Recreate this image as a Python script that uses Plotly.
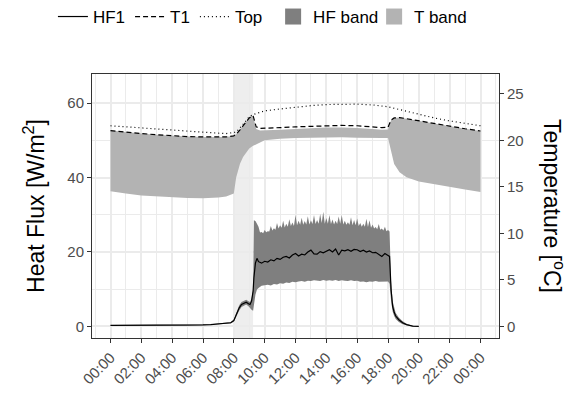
import pandas as pd
import plotly.graph_objects as go

DAY = "2020-01-01"

# ---------------- temperature series (degC) ----------------
t_temp_h = [0, 1, 2, 3, 4, 5, 6, 7, 7.5, 8, 8.15, 8.4, 8.6, 8.8, 9.0, 9.25, 9.45, 9.7,
            10, 11, 12, 13, 14, 15, 16, 17, 17.6, 18.0, 18.2, 18.4, 18.75, 19.2,
            20, 21, 22, 23, 24]
T1_C = [21.04, 20.84, 20.72, 20.60, 20.48, 20.40, 20.36, 20.36, 20.36, 20.48, 20.64,
        21.12, 21.56, 22.00, 22.40, 22.64, 21.44, 21.28, 21.28, 21.36, 21.44, 21.52,
        21.60, 21.60, 21.56, 21.44, 21.36, 21.40, 22.16, 22.40, 22.44, 22.32, 22.08,
        21.80, 21.52, 21.24, 21.00]
Top_C = [21.56, 21.44, 21.32, 21.20, 21.04, 20.92, 20.84, 20.76, 20.72, 20.80, 20.88,
         21.32, 21.76, 22.20, 22.52, 22.76, 22.88, 23.04, 23.16, 23.36, 23.56, 23.72,
         23.84, 23.88, 23.88, 23.80, 23.72, 23.60, 23.52, 23.44, 23.28, 23.08, 22.76,
         22.40, 22.08, 21.80, 21.56]
Tband_low_C = [14.52, 14.28, 14.08, 13.96, 13.88, 13.80, 13.76, 13.84, 13.96, 14.28, 16.00,
               17.48, 18.20, 18.72, 19.12, 19.40, 19.60, 19.76, 20.00, 20.16, 20.24, 20.28,
               20.32, 20.32, 20.28, 20.28, 20.24, 20.24, 18.88, 17.44, 16.56, 16.04, 15.56,
               15.28, 15.00, 14.72, 14.44]
Tband_high_C = [21.04, 20.84, 20.72, 20.60, 20.48, 20.40, 20.36, 20.36, 20.36, 20.48, 20.64,
                21.12, 21.56, 22.00, 22.40, 22.64, 21.20, 21.04, 21.04, 21.12, 21.20, 21.28,
                21.36, 21.36, 21.32, 21.20, 21.12, 21.16, 22.16, 22.40, 22.44, 22.32, 22.08,
                21.80, 21.52, 21.24, 21.00]

# ---------------- heat flux series (W/m2) ----------------
t_hf_h = [0, 1, 2, 3, 4, 5, 6, 6.5, 7, 7.5, 7.8, 8.0, 8.1, 8.2, 8.35, 8.5, 8.65, 8.8,
          8.95, 9.05, 9.15, 9.25, 9.3, 9.4, 9.5,
          9.6, 9.8, 10.0, 10.2, 10.4, 10.6, 10.8, 11.0, 11.2, 11.4, 11.6, 11.8,
          12.0, 12.2, 12.4, 12.6, 12.8, 13.0, 13.2, 13.4, 13.6, 13.8,
          14.0, 14.2, 14.4, 14.6, 14.8, 15.0, 15.2, 15.4, 15.6, 15.8,
          16.0, 16.2, 16.4, 16.6, 16.8, 17.0, 17.2, 17.4, 17.6, 17.8, 18.0,
          18.1, 18.2, 18.3, 18.4, 18.5, 18.7, 18.95, 19.2, 19.6, 20.0]
HF1 = [0.3, 0.3, 0.3, 0.3, 0.2, 0.3, 0.4, 0.5, 0.7, 0.9, 1.0, 1.6, 2.6, 3.6, 5.0, 5.9,
       6.2, 6.5, 6.1, 5.9, 6.8, 9.5, 13.0, 17.0, 18.3,
       17.4, 17.0, 17.5, 17.3, 17.9, 17.6, 18.3, 18.0, 18.6, 18.8, 18.4, 19.2,
       19.6, 18.9, 19.4, 19.2, 20.0, 20.5, 19.5, 19.4, 20.1, 19.8,
       20.3, 20.6, 20.0, 20.8, 19.2, 20.5, 20.3, 20.6, 20.2, 20.7,
       20.6, 20.1, 20.5, 20.0, 20.3, 19.8, 19.9, 19.4, 18.8, 19.6, 19.2,
       18.8, 9.9, 5.4, 3.8, 2.8, 1.8, 1.0, 0.5, 0.1, 0.0]
HFband_low = [0.2, 0.2, 0.2, 0.2, 0.1, 0.2, 0.3, 0.4, 0.6, 0.7, 0.8, 1.3, 2.2, 3.0, 4.3,
              5.2, 5.6, 5.9, 5.4, 5.0, 4.5, 4.2, 5.5, 8.5, 9.9,
              10.3, 10.9, 11.1, 11.2, 11.0, 11.4, 11.3, 11.6, 11.5, 11.8, 11.7, 12.0,
              11.9, 12.1, 12.2, 12.0, 12.3, 12.2, 12.4, 12.3, 12.2, 12.5,
              12.3, 12.4, 12.3, 12.5, 12.2, 12.4, 12.3, 12.2, 12.4, 12.2,
              12.3, 12.0, 12.1, 11.9, 12.1, 12.0, 12.2, 12.0, 12.1, 12.0, 12.1,
              11.5, 7.0, 4.0, 2.8, 2.0, 1.2, 0.6, 0.3, 0.0, 0.0]

# upper edge of the HF band is sampled more finely (it is very ragged)
t_hf_hi_h = [0, 1, 2, 3, 4, 5, 6, 6.5, 7, 7.5, 7.8, 8.0, 8.1, 8.2, 8.35, 8.5, 8.65, 8.8,
             8.95, 9.05, 9.15, 9.25, 9.3, 9.4, 9.5,
             9.6, 9.7, 9.8, 9.9, 10.0, 10.1, 10.2, 10.3, 10.4, 10.5, 10.6, 10.7, 10.8, 10.9,
             11.0, 11.1, 11.2, 11.3, 11.4, 11.5, 11.6, 11.7, 11.8, 11.9,
             12.0, 12.1, 12.2, 12.3, 12.4, 12.5, 12.6, 12.7, 12.8, 12.9,
             13.0, 13.1, 13.2, 13.3, 13.4, 13.5, 13.6, 13.7, 13.8, 13.9,
             14.0, 14.1, 14.2, 14.3, 14.4, 14.5, 14.6, 14.7, 14.8, 14.9,
             15.0, 15.1, 15.2, 15.3, 15.4, 15.5, 15.6, 15.7, 15.8, 15.9,
             16.0, 16.1, 16.2, 16.3, 16.4, 16.5, 16.6, 16.7, 16.8, 16.9,
             17.0, 17.1, 17.2, 17.3, 17.4, 17.5, 17.6, 17.7, 17.8, 17.9, 18.0,
             18.1, 18.2, 18.3, 18.4, 18.5, 18.7, 18.95, 19.2, 19.6, 20.0]
HFband_high = [0.4, 0.4, 0.4, 0.4, 0.3, 0.4, 0.5, 0.6, 0.8, 1.1, 1.2, 1.9, 3.0, 4.2, 5.7,
               6.6, 6.9, 7.2, 6.8, 6.6, 7.5, 10.0, 28.5, 28.3, 27.6,
               26.8, 25.2, 25.4, 25.0, 25.9, 25.3, 25.6, 25.5, 27.0, 25.8, 26.4, 26.0, 27.8, 26.3,
               27.2, 26.5, 28.4, 26.6, 27.6, 26.8, 28.8, 27.0, 27.9, 27.0,
               29.9, 27.2, 28.4, 27.3, 29.2, 27.3, 28.3, 27.4, 29.6, 27.4,
               28.5, 27.5, 29.9, 27.5, 28.6, 27.6, 30.2, 27.8, 30.8, 27.6,
               29.1, 27.6, 29.9, 27.5, 28.7, 27.4, 28.4, 27.5, 29.5, 27.6,
               29.9, 27.4, 28.4, 27.3, 28.0, 27.3, 29.3, 27.2, 28.6, 27.2,
               29.0, 27.0, 27.8, 26.8, 27.6, 26.8, 28.9, 26.7, 28.5, 26.5,
               27.4, 26.3, 26.7, 26.1, 27.5, 26.0, 26.3, 25.8, 26.8, 25.6, 25.9,
               25.5, 12.0, 6.8, 4.8, 3.6, 2.4, 1.4, 0.7, 0.2, 0.0]

shade_h = [8.0, 9.25]           # highlighted period
x_range_h = [-1.2, 25.2]
hf_ticks = [0, 20, 40, 60]
temp_ticks = [0, 5, 10, 15, 20, 25]
hf_range = [-3.1, 67.8]
temp_range = [-1.24, 27.12]


def to_time(hours):
    return list(pd.Timestamp(DAY) + pd.to_timedelta(hours, unit="h"))


tt = to_time(t_temp_h)
th = to_time(t_hf_h)
thi = to_time(t_hf_hi_h)

C_HF = "#7f7f7f"
C_T = "#b3b3b3"
AX = "#333333"
TXT = "#4d4d4d"
GRID = "#ebebeb"

fig = go.Figure()

# bands
fig.add_trace(go.Scatter(x=thi + th[::-1], y=HFband_high + HFband_low[::-1], fill="toself",
                         fillcolor=C_HF, line=dict(width=0), mode="lines",
                         showlegend=False, hoverinfo="skip", yaxis="y"))
fig.add_trace(go.Scatter(x=th, y=HF1, mode="lines", name="HF1",
                         line=dict(color="black", width=1.2), yaxis="y", legend="legend"))

fig.add_trace(go.Scatter(x=tt + tt[::-1], y=Tband_high_C + Tband_low_C[::-1], fill="toself",
                         fillcolor=C_T, line=dict(width=0), mode="lines",
                         showlegend=False, hoverinfo="skip", yaxis="y2"))
fig.add_trace(go.Scatter(x=tt, y=T1_C, mode="lines", name="T1",
                         line=dict(color="black", width=1.2, dash="5px,3px"),
                         yaxis="y2", legend="legend"))
fig.add_trace(go.Scatter(x=tt, y=Top_C, mode="lines", name="Top",
                         line=dict(color="black", width=1.2, dash="1px,3px"),
                         yaxis="y2", legend="legend"))

# legend keys for the bands
fig.add_trace(go.Scatter(x=[None], y=[None], mode="markers", name="HF band",
                         marker=dict(symbol="square", size=16, color=C_HF),
                         legend="legend2", legendwidth=56, yaxis="y"))
fig.add_trace(go.Scatter(x=[None], y=[None], mode="markers", name="T band",
                         marker=dict(symbol="square", size=16, color=C_T),
                         legend="legend2", yaxis="y"))

sh = to_time(shade_h)
fig.add_vrect(x0=sh[0], x1=sh[1], fillcolor="#eeeeee", line_width=0, layer="below")

xr = to_time(x_range_h)
# the page body adds an 8px offset, so the figure is sized to fill the rest of the window
fig.update_layout(
    width=567, height=391,
    margin=dict(l=84, r=76, t=66, b=61, autoexpand=False),
    paper_bgcolor="white", plot_bgcolor="white",
    font=dict(family="Liberation Sans, Arial, sans-serif", color="black"),
    legend=dict(orientation="h", x=-0.096, xanchor="left", y=1.216, yanchor="middle",
                font=dict(size=17, color="black"), bgcolor="rgba(0,0,0,0)"),
    legend2=dict(orientation="h", x=0.445, xanchor="left", y=1.216, yanchor="middle",
                 font=dict(size=17, color="black"), bgcolor="rgba(0,0,0,0)"),
    xaxis=dict(type="date", range=xr, tickformat="%H:%M", dtick=7200000, tick0=DAY,
               tickangle=-45, ticks="outside", ticklen=4, tickwidth=1, tickcolor=AX,
               tickfont=dict(size=15, color=TXT),
               showgrid=True, gridcolor=GRID, gridwidth=1.5,
               minor=dict(dtick=3600000, showgrid=True, gridcolor=GRID, gridwidth=1.0),
               showline=True, linecolor=AX, linewidth=1, mirror=True, zeroline=False),
    yaxis=dict(range=hf_range, tickvals=hf_ticks, ticks="outside", ticklen=4, tickwidth=1,
               tickcolor=AX, tickfont=dict(size=15, color=TXT),
               showgrid=True, gridcolor=GRID, gridwidth=1.5,
               minor=dict(dtick=10, showgrid=True, gridcolor=GRID, gridwidth=1.0),
               showline=True, linecolor=AX, linewidth=1, mirror=True, zeroline=False,
               title=dict(text="Heat Flux [W/m<sup>2</sup>]", standoff=16,
                          font=dict(size=23, color="black"))),
    yaxis2=dict(overlaying="y", side="right", range=temp_range, tickvals=temp_ticks,
                ticks="outside", ticklen=4, tickwidth=1, tickcolor=AX,
                tickfont=dict(size=15, color=TXT), showgrid=False,
                showline=True, linecolor=AX, linewidth=1, zeroline=False),
    annotations=[dict(text="Temperature [<sup>o</sup>C]", textangle=90, x=1.135, y=0.5,
                      xref="paper", yref="paper", xanchor="center", yanchor="middle",
                      showarrow=False, font=dict(size=23, color="black"))],
)

fig.write_html("out.html")
